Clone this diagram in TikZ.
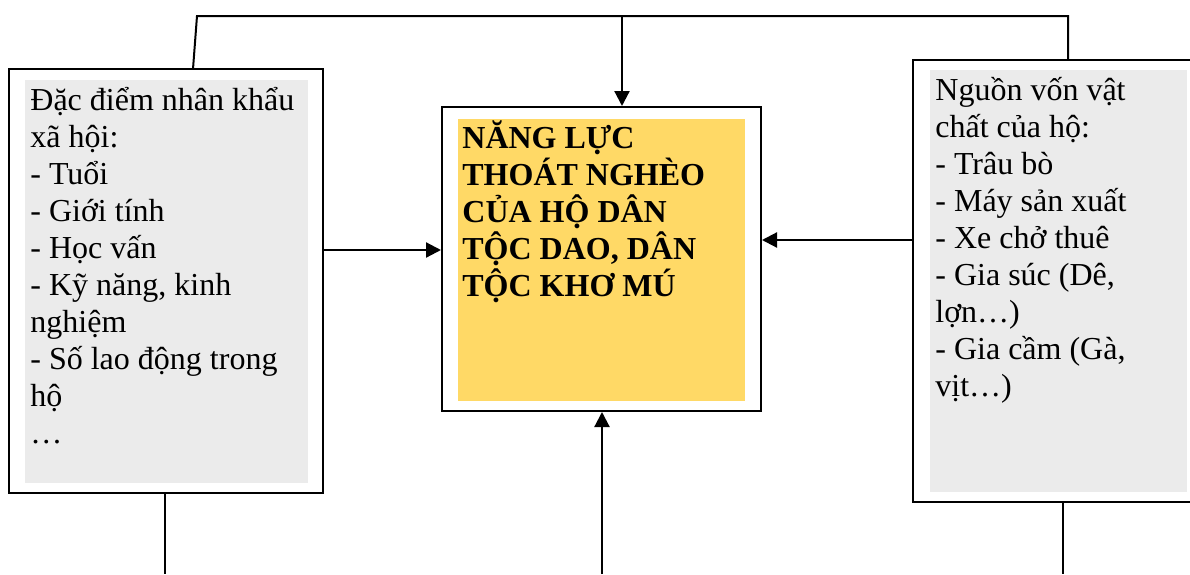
\documentclass[tikz,border=0pt]{standalone}
\usepackage{fontspec}
\setmainfont{Liberation Serif}
\usetikzlibrary{fit,arrows.meta}
\definecolor{boxgray}{HTML}{EBEBEB}
\definecolor{boxyellow}{HTML}{FFD966}
\newcommand{\mylines}[1]{\vtop{\baselineskip=18.5pt\lineskiplimit=-20pt\halign{##\hfil\cr #1\crcr}}}
\begin{document}
\begin{tikzpicture}[x=0.5pt,y=-0.5pt,
  outerbox/.style={draw=black,line width=1pt,inner sep=0pt},
  fillbox/.style={inner sep=0pt},
  txt/.style={inner sep=0pt,anchor=base west,font=\fontsize{16}{18.5}\selectfont},
  conn/.style={line width=1pt},
  arr/.style={line width=1.1pt,-{Triangle[length=7.5pt,width=7.5pt]}}]
\useasboundingbox (0,0) rectangle (1190,574);
\clip (0,0) rectangle (1190,574);
% boxes
\node[outerbox,fit={(9,69) (323,493)}] (L) {};
\node[fillbox,fill=boxgray,fit={(25,80) (308,483)}] (Lf) {};
\node[outerbox,fit={(913,60) (1196,502)}] (R) {};
\node[fillbox,fill=boxgray,fit={(930,70) (1187,492)}] (Rf) {};
\node[outerbox,fit={(442,107) (761,411)}] (C) {};
\node[fillbox,fill=boxyellow,fit={(458,119) (745,401)}] (Cf) {};
% texts
\node[txt] (Lt) at (30,110) {\mylines{Đặc điểm nhân khẩu\cr xã hội:\cr - Tuổi\cr - Giới tính\cr - Học vấn\cr - Kỹ năng, kinh\cr nghiệm\cr - Số lao động trong\cr hộ\cr …}};
\node[txt] (Rt) at (935,100) {\mylines{Nguồn vốn vật\cr chất của hộ:\cr - Trâu bò\cr - Máy sản xuất\cr - Xe chở thuê\cr - Gia súc (Dê,\cr lợn…)\cr - Gia cầm (Gà,\cr vịt…)}};
\node[txt,font=\fontsize{16}{18.5}\selectfont\bfseries] (Ct) at (462,148) {\mylines{NĂNG LỰC\cr THOÁT NGHÈO\cr CỦA HỘ DÂN\cr TỘC DAO, DÂN\cr TỘC KHƠ MÚ}};
% coordinates
\coordinate (tlb) at (193,69);
\coordinate (tl) at (197,16);
\coordinate (tr) at (1068,16);
\coordinate (tc) at (622,16);
\coordinate (lb) at (165,574);
\coordinate (rb) at (1063,574);
\coordinate (cb) at (602,574);
\coordinate (la) at (380,250);
\coordinate (ra) at (840,240);
% connectors
\draw[conn] (tlb) -- (tl) -- (tr) -- (tr |- R.north);
\draw[arr] (tc) -- (tc |- C.north);
\draw[conn] (lb |- L.south) -- (lb);
\draw[conn] (rb |- R.south) -- (rb);
\draw[arr] (cb) -- (cb |- C.south);
\draw[arr] (L.east |- la) -- (C.west |- la);
\draw[arr] (R.west |- ra) -- (C.east |- ra);
\end{tikzpicture}
\end{document}
